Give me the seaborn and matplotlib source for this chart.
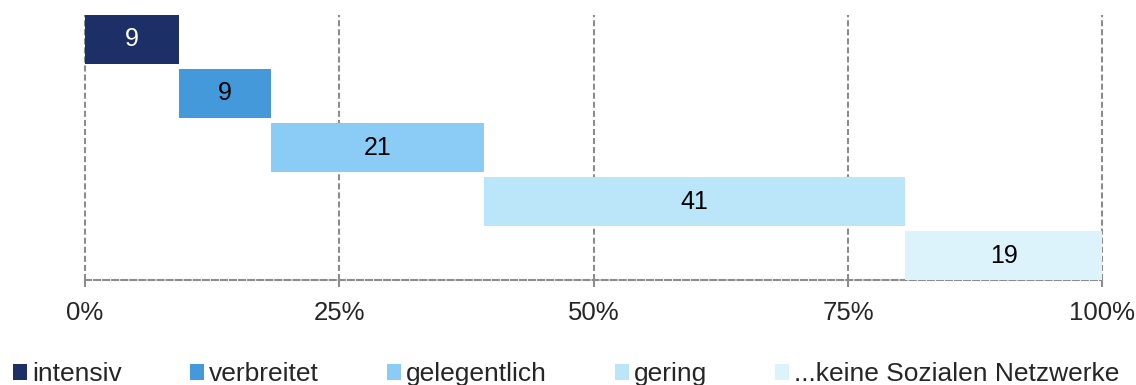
import matplotlib
matplotlib.use("Agg")
import matplotlib.pyplot as plt
from matplotlib.patches import Patch
import seaborn as sns
import numpy as np

# Shares of usage intensity (percent), drawn as a cascading 100% bar
categories = ["intensiv", "verbreitet", "gelegentlich", "gering", "...keine Sozialen Netzwerke"]
shares = [9.2, 9.1, 20.9, 41.4, 19.4]
colors = ["#1C2F66", "#4499DB", "#8ACCF5", "#BBE6FA", "#DDF3FB"]
label_colors = ["white", "black", "black", "black", "black"]
tick_values = [0, 25, 50, 75, 100]
tick_labels = ["0%", "25%", "50%", "75%", "100%"]

sns.set_theme(style="white")
plt.rcParams["font.family"] = ["Liberation Sans", "DejaVu Sans"]

fig = plt.figure(figsize=(11.36, 3.85), dpi=100)
ax = fig.add_axes([0.0748, 0.2727, 0.8955, 0.6883])

sns.barplot(x=shares, y=categories, hue=categories, palette=colors,
            width=0.9, legend=False, ax=ax, saturation=1, orient="h")

# shift each bar so that it starts where the previous one ends
starts = np.concatenate([[0], np.cumsum(shares)[:-1]])
for i, container in enumerate(ax.containers):
    for bar in container:
        bar.set_x(starts[i])
        bar.set_linewidth(0)
    ax.bar_label(container, labels=[f"{shares[i]:.0f}"], label_type="center",
                 color=label_colors[i], fontsize=18)

ax.set_xlim(0, 100)
ax.set_ylim(4.45, -0.45)
ax.set_xticks(tick_values)
ax.set_xticklabels(tick_labels, fontsize=18.5)
ax.set_yticks([])
ax.set_xlabel("")
ax.set_ylabel("")

grid_color = "#8C8C8C"
dash = (0, (2.9, 1.45))
ax.grid(False)
for v in tick_values:
    ax.axvline(v, color=grid_color, lw=1.5, ls=dash, zorder=0, clip_on=False)
for s in ["top", "right", "left"]:
    ax.spines[s].set_visible(False)
ax.spines["bottom"].set_color(grid_color)
ax.spines["bottom"].set_linewidth(1.5)
ax.spines["bottom"].set_linestyle(dash)
ax.spines["bottom"].set_zorder(0.5)
ax.tick_params(axis="x", length=5, width=1.5, color=grid_color, pad=10, bottom=True)

handles = [Patch(facecolor=c, edgecolor="none") for c in colors]
fig.legend(handles, categories, loc="center left", bbox_to_anchor=(0.0114, 0.028),
           ncol=5, frameon=False, fontsize=19, handlelength=0.53, handleheight=0.53,
           handletextpad=0.19, columnspacing=2.58, borderpad=0, borderaxespad=0)

fig.savefig("out.png", dpi=100)
